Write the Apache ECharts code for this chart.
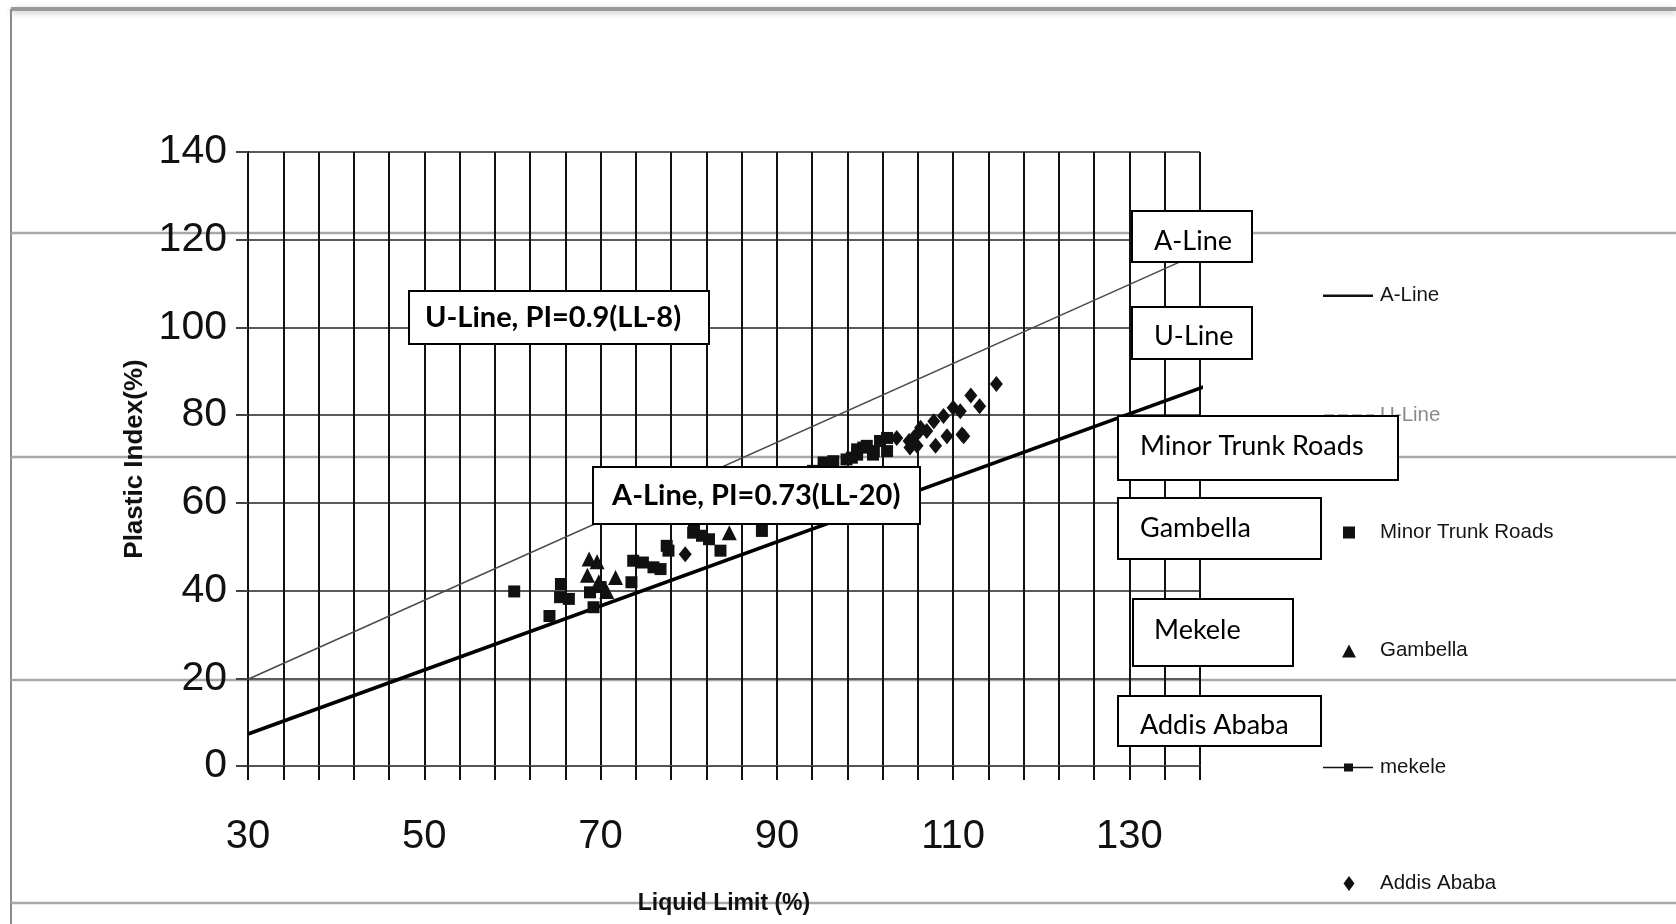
<!DOCTYPE html>
<html>
<head>
<meta charset="utf-8">
<script src="https://cdn.jsdelivr.net/npm/echarts@6/dist/echarts.min.js"></script>
<style>
  html, body { margin: 0; padding: 0; background: #ffffff; }
  #chart { width: 1676px; height: 924px; }
</style>
</head>
<body>
<div id="chart"></div>
<script>
// Liquid-limit values labelled on the x axis
const xLabelValues = [30, 50, 70, 90, 110, 130];

// Reference lines: end points on the liquid-limit axis; PI comes from the stated equations
const aLineLL = [30, 139];
const uLineLL = [30, 138];
const aLineCoef = 0.73, aLineShift = 20;   // A-Line, PI = 0.73(LL-20)
const uLineCoef = 0.9,  uLineShift = 8;    // U-Line, PI = 0.9(LL-8)

// Test results [liquid limit, plastic index]
const minorTrunkRoads = [
  [60.2, 39.8], [64.2, 34.2], [65.5, 41.5], [65.4, 38.5], [66.4, 38.1],
  [68.8, 39.6], [69.2, 36.2], [70.0, 40.8], [73.5, 41.9], [77.7, 49.1],
  [77.5, 50.2], [83.6, 49.1], [94.1, 67.3], [95.3, 69.2], [96.4, 69.5],
  [97.9, 69.9], [98.5, 70.3], [99.1, 71.0], [99.1, 72.2], [99.8, 72.6],
  [100.2, 73.0], [101.0, 71.8], [100.9, 71.0], [101.7, 74.1], [102.5, 71.8],
  [102.5, 74.8]
];
const gambella = [
  [68.7, 47.2], [69.6, 46.6], [68.5, 43.5], [70.7, 39.8], [71.7, 43.0],
  [84.6, 53.2], [69.8, 42.0]
];
const mekele = [
  [73.7, 46.8], [74.8, 46.4], [76.0, 45.3], [76.8, 44.9], [80.5, 53.2],
  [81.5, 52.5], [82.3, 51.7], [80.6, 53.6], [88.3, 53.6]
];
const addisAbaba = [
  [79.6, 48.3], [103.6, 74.8], [105.1, 72.6], [105.5, 74.8], [105.9, 73.0],
  [106.3, 77.1], [107.0, 76.4], [107.8, 78.6], [108.0, 73.0], [108.9, 79.8],
  [109.3, 75.2], [110.0, 81.7], [110.8, 80.9], [111.2, 75.2], [112.0, 84.5],
  [113.0, 82.0], [114.9, 87.1], [105.0, 74.1], [106.2, 76.4], [111.0, 75.6]
];

// Series names as listed in the legend column
const seriesNames = ['A-Line', 'U-Line', 'Minor Trunk Roads', 'Gambella', 'mekele', 'Addis Ababa'];

// Captions of the boxed notes over the chart
const noteTexts = [
  'U-Line, PI=0.9(LL-8)', 'A-Line, PI=0.73(LL-20)',
  'A-Line', 'U-Line', 'Minor Trunk Roads', 'Gambella', 'Mekele', 'Addis Ababa'
];

const aLine = aLineLL.map(ll => [ll, +(aLineCoef * (ll - aLineShift)).toFixed(2)]);
const uLine = uLineLL.map(ll => [ll, +(uLineCoef * (ll - uLineShift)).toFixed(2)]);

const INK = '#111111';
const SCAN_FONT = '"Liberation Sans", Arial, sans-serif';
const NOTE_FONT = 'Lato, "Open Sans", sans-serif';

// Boxed notes: [left, top, width, height, text x, text centre y, bold]
const noteBoxes = [
  [409, 291, 300, 53, 425, 318, true],
  [593, 467, 327, 57, 612, 496, true],
  [1132, 211, 120, 51, 1154, 241, false],
  [1132, 307, 120, 52, 1154, 336, false],
  [1118, 416, 280, 64, 1140, 446, false],
  [1118, 498, 203, 61, 1140, 528, false],
  [1133, 599, 160, 67, 1154, 630, false],
  [1118, 696, 203, 50, 1140, 725, false]
];

const noteGraphics = [];
noteBoxes.forEach((b, i) => {
  noteGraphics.push({
    type: 'rect', z: 100, z2: 1,
    shape: { x: b[0], y: b[1], width: b[2], height: b[3] },
    style: { fill: '#ffffff', stroke: '#000000', lineWidth: 2 }
  });
  noteGraphics.push({
    type: 'text', z: 100, z2: 2,
    x: b[4], y: b[5],
    style: {
      text: noteTexts[i],
      fill: '#000000',
      font: b[6] ? 'bold 29px ' + NOTE_FONT : '27px ' + NOTE_FONT,
      textAlign: 'left',
      textVerticalAlign: 'middle'
    }
  });
});

// Page rules of the surrounding document
const pageRuleYs = [233, 457, 680, 903];
const pageGraphics = [
  { type: 'line', z: -10, shape: { x1: 11, y1: 9, x2: 1676, y2: 9 },
    style: { stroke: '#9a9a9a', lineWidth: 4, shadowBlur: 6, shadowColor: 'rgba(0,0,0,0.25)', shadowOffsetY: 2 } },
  { type: 'line', z: -10, shape: { x1: 11, y1: 9, x2: 11, y2: 924 },
    style: { stroke: '#8a8a8a', lineWidth: 2 } }
].concat(pageRuleYs.map(y => ({
  type: 'line', z: -10,
  shape: { x1: 11, y1: y, x2: 1676, y2: y },
  style: { stroke: '#a8a8a8', lineWidth: 2.5 }
})));

// Legend glyphs drawn in a 52x16 cell (the leading moves fix the cell extent)
const CELL = 'path://M0,0M52,16';
const legendIcons = [
  CELL + 'M0,7H50V9.6H0Z',
  CELL + 'M1,6.8H11V9.4H1ZM15,6.8H25V9.4H15ZM29,6.8H39V9.4H29ZM43,6.8H51V9.4H43Z',
  CELL + 'M20,2H32V14H20Z',
  CELL + 'M19,15L26,2L33,15Z',
  CELL + 'M0,7.2H21V4H30V7.2H50V8.8H30V12H21V8.8H0Z',
  CELL + 'M26,0.5L31.5,8L26,15.5L20.5,8Z'
];

// One legend block per series so each entry sits on its own row
const legendRows = [291, 411, 528, 646, 763, 879];
const legends = seriesNames.map((name, i) => ({
  data: [{
    name: name,
    icon: legendIcons[i],
    itemStyle: { color: i === 1 ? '#9a9a9a' : '#111111', borderWidth: 0 },
    textStyle: { color: i === 1 ? '#8a8a8a' : '#151515' }
  }],
  left: 1318,
  top: legendRows[i] - 11,
  orient: 'vertical',
  itemWidth: 52,
  itemHeight: 16,
  itemGap: 0,
  selectedMode: false,
  textStyle: { fontFamily: SCAN_FONT, fontSize: 20.5, color: '#151515' }
}));

const option = {
  backgroundColor: '#ffffff',
  animation: false,
  grid: { left: 248, right: 476, top: 152, bottom: 158, containLabel: false },
  legend: legends,
  xAxis: {
    type: 'value',
    min: 30, max: 138, interval: 4,
    name: 'Liquid Limit (%)',
    nameLocation: 'middle',
    nameGap: 126,
    nameTextStyle: { fontFamily: SCAN_FONT, fontSize: 23, fontWeight: 'bold', color: '#111111' },
    axisLine: { show: true, onZero: false, lineStyle: { color: '#555555', width: 2 } },
    axisTick: { show: true, length: 14, lineStyle: { color: INK, width: 2 } },
    axisLabel: {
      margin: 51,
      fontFamily: SCAN_FONT, fontSize: 40, color: '#111111',
      formatter: v => (xLabelValues.indexOf(v) >= 0 ? String(v) : '')
    },
    splitLine: { show: true, lineStyle: { color: INK, width: 2 } }
  },
  yAxis: {
    type: 'value',
    min: 0, max: 140, interval: 20,
    name: 'Plastic Index(%)',
    nameLocation: 'middle',
    nameGap: 90,
    nameTextStyle: { fontFamily: SCAN_FONT, fontSize: 26, fontWeight: 'bold', color: '#111111' },
    axisLine: { show: true, lineStyle: { color: INK, width: 2 } },
    axisTick: { show: true, length: 12, lineStyle: { color: '#444444', width: 2 } },
    axisLabel: { margin: 21, fontFamily: SCAN_FONT, fontSize: 41, color: '#111111' },
    splitLine: { show: true, lineStyle: { color: '#5a5a5a', width: 2 } }
  },
  series: [
    {
      name: seriesNames[0], type: 'line', data: aLine, symbol: 'none', clip: false,
      lineStyle: { color: '#000000', width: 3.5 }, itemStyle: { color: '#000000' }, z: 3
    },
    {
      name: seriesNames[1], type: 'line', data: uLine, symbol: 'none',
      lineStyle: { color: '#4a4a4a', width: 1.6 }, itemStyle: { color: '#4a4a4a' }, z: 3
    },
    {
      name: seriesNames[2], type: 'scatter', data: minorTrunkRoads, symbol: 'rect', symbolSize: 12,
      itemStyle: { color: INK, opacity: 1 }, z: 4
    },
    {
      name: seriesNames[3], type: 'scatter', data: gambella, symbol: 'triangle', symbolSize: 15,
      itemStyle: { color: INK, opacity: 1 }, z: 4
    },
    {
      name: seriesNames[4], type: 'scatter', data: mekele, symbol: 'rect', symbolSize: 12,
      itemStyle: { color: INK, opacity: 1 }, z: 4
    },
    {
      name: seriesNames[5], type: 'scatter', data: addisAbaba, symbol: 'diamond', symbolSize: [13, 16],
      itemStyle: { color: INK, opacity: 1 }, z: 4
    }
  ],
  graphic: pageGraphics.concat(noteGraphics)
};

const chart = echarts.init(document.getElementById('chart'), null, { renderer: 'canvas' });
chart.setOption(option);
</script>
</body>
</html>
